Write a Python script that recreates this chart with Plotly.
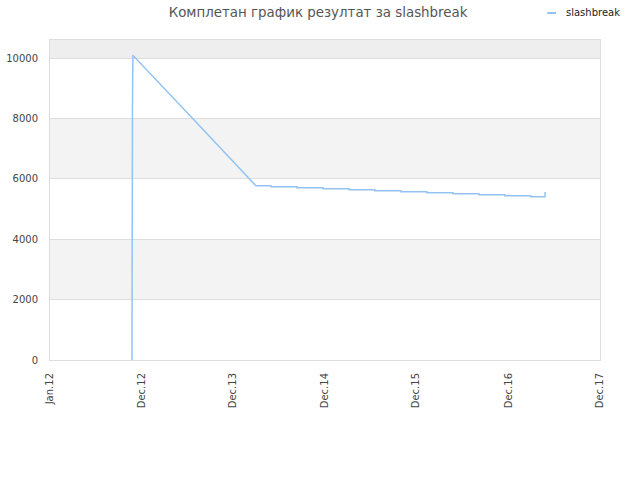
import plotly.graph_objects as go

# scores of slashbreak over time
dates = ["2012-11-18", "2012-11-18", "2012-11-19", "2012-11-20", "2012-11-21",
         "2012-11-22", "2012-11-22", "2012-11-23", "2013-07-24", "2014-03-20",
         "2014-05-18", "2014-05-18", "2014-08-28", "2014-08-28", "2014-12-09",
         "2014-12-09", "2015-03-21", "2015-03-21", "2015-06-30", "2015-06-30",
         "2015-10-11", "2015-10-11", "2016-01-21", "2016-01-21", "2016-05-02",
         "2016-05-02", "2016-08-12", "2016-08-12", "2016-11-22", "2016-11-22",
         "2017-03-04", "2017-03-04", "2017-04-29", "2017-04-29"]
scores = [0, 1400, 7900, 8300, 9500,
          10100, 9500, 10080, 7914, 5772,
          5772, 5738, 5738, 5705, 5705,
          5672, 5672, 5639, 5639, 5606,
          5606, 5573, 5573, 5540, 5540,
          5507, 5507, 5474, 5474, 5440,
          5440, 5407, 5407, 5563]

tick_dates = ["2012-01-01", "2012-12-27", "2013-12-20", "2014-12-16",
              "2015-12-09", "2016-12-06", "2017-12-01"]
tick_text = ["Jan.12", "Dec.12", "Dec.13", "Dec.14", "Dec.15", "Dec.16", "Dec.17"]

y_ticks = [0, 2000, 4000, 6000, 8000, 10000]
y_max = 10600

line_color = "#92c3f3"

fig = go.Figure()
fig.add_trace(go.Scatter(x=dates, y=scores, mode="lines", name="slashbreak",
                         line=dict(color=line_color, width=1.5), showlegend=False))

# alternating background bands
band_colors = ["#ffffff", "#f3f3f3", "#ffffff", "#f3f3f3", "#ffffff", "#eeeeee"]
edges = y_ticks + [y_max]
for i in range(len(band_colors)):
    fig.add_shape(type="rect", xref="paper", yref="y", x0=0, x1=1,
                  y0=edges[i], y1=edges[i + 1], fillcolor=band_colors[i],
                  line_width=0, layer="below")

# small legend in the top right corner
fig.add_shape(type="line", xref="paper", yref="paper", x0=0.904, x1=0.92,
              y0=1.0 + 27 / 320, y1=1.0 + 27 / 320,
              line=dict(color=line_color, width=2))
fig.add_annotation(text="slashbreak", xref="paper", yref="paper", x=0.935, xanchor="left",
                   y=1.0 + 27 / 320, yanchor="middle", showarrow=False,
                   font=dict(size=10, color="#222"))

fig.update_layout(
    width=640, height=480,
    margin=dict(l=50, r=40, t=40, b=120, autoexpand=False),
    paper_bgcolor="white", plot_bgcolor="white",
    font=dict(family="DejaVu Sans", size=10, color="#444"),
    title=dict(text="Комплетан график резултат за slashbreak", x=0.497, xanchor="center",
               y=0.975, yanchor="middle", font=dict(size=13.4, color="#555")),
    showlegend=False,
)
fig.update_xaxes(type="date", range=[tick_dates[0], tick_dates[-1]],
                 tickvals=tick_dates, ticktext=tick_text, tickangle=-90,
                 showgrid=False, showline=True, linecolor="#dddddd", mirror=True,
                 zeroline=False, ticks="", automargin=False, ticklabelstandoff=8,
                 tickfont=dict(size=10, color="#444"))
fig.update_yaxes(range=[0, y_max], tickvals=y_ticks, ticktext=[str(v) for v in y_ticks],
                 showgrid=True, gridcolor="#dddddd", showline=True, linecolor="#dddddd",
                 mirror=True, zeroline=False, ticks="", automargin=False, ticklabelstandoff=9,
                 tickfont=dict(size=10, color="#444"))

fig.write_html("out.html", config={"displayModeBar": False},
               post_script="document.body.style.margin = '0px';")
